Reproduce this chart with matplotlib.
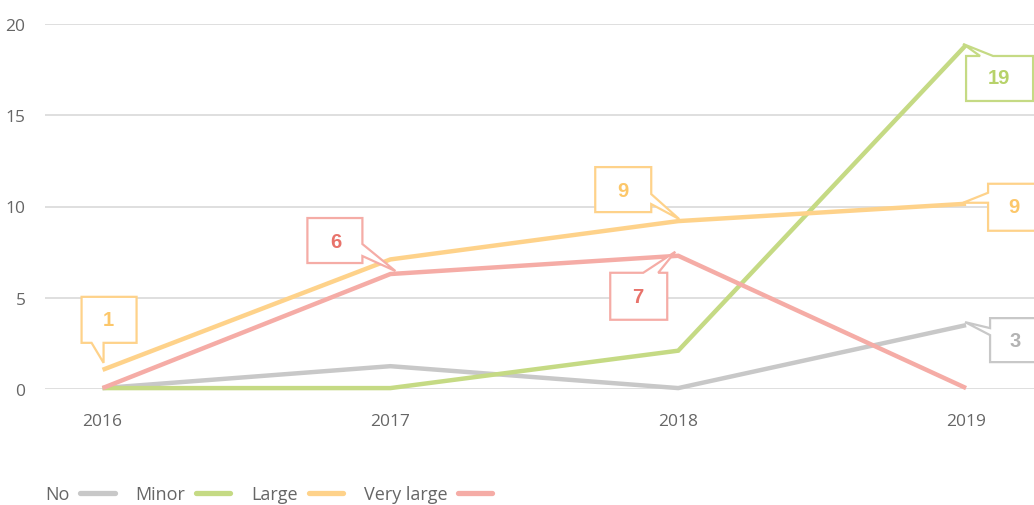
import matplotlib
matplotlib.use("Agg")
import matplotlib.pyplot as plt
from matplotlib.patches import Polygon
from matplotlib.transforms import Affine2D, ScaledTranslation
from matplotlib.lines import Line2D

years = [2016, 2017, 2018, 2019]
series_names = ["No", "Minor", "Large", "Very large"]
no_vals = [0.05, 1.25, 0.05, 3.5]
minor_vals = [0.05, 0.05, 2.1, 18.85]
large_vals = [1.05, 7.1, 9.2, 10.15]
very_large_vals = [0.05, 6.3, 7.3, 0.05]
y_ticks = [0, 5, 10, 15, 20]

# callouts: (series index, year index, label)
callouts = [
    (1, 3, "19"),
    (2, 3, "9"),
    (0, 3, "3"),
    (2, 2, "9"),
    (3, 1, "6"),
    (3, 2, "7"),
    (2, 0, "1"),
]

line_colors = ["#c8c8c8", "#c5da84", "#fed28a", "#f5aca6"]
text_colors = ["#b3b3b3", "#b7d26a", "#fcc76a", "#e8736b"]

all_vals = [no_vals, minor_vals, large_vals, very_large_vals]

W, H = 1034, 506
fig = plt.figure(figsize=(W / 100, H / 100), dpi=100)
ax = fig.add_axes([45 / W, 1 - 390 / H, 1 - 45 / W, (390 - 25) / H])
ax.set_xlim(2015.8, 2019.236)
ax.set_ylim(0, 20)

for s in ax.spines.values():
    s.set_visible(False)
ax.set_yticks(y_ticks)
ax.set_xticks(years)
ax.set_xticklabels([str(y) for y in years])
ax.grid(axis="y", color="#dcdcdc", linewidth=1.3)
ax.set_axisbelow(True)
ax.tick_params(axis="both", length=0, labelsize=12.5, labelcolor="#666666")
ax.tick_params(axis="y", pad=14)
ax.tick_params(axis="x", pad=17)
for lab in ax.get_xticklabels() + ax.get_yticklabels():
    lab.set_fontfamily("Open Sans")

for vals, c in zip(all_vals, line_colors):
    ax.plot(years, vals, color=c, linewidth=3.2, clip_on=False,
            solid_capstyle="butt", solid_joinstyle="miter", zorder=3)

# callout geometry in pixel offsets relative to the point (x right, y down):
# polygon vertices and text centre
shapes = [
    # 19 at Minor 2019
    ([(0, 11), (14, 11), (-3, -1), (27, 11), (67, 11), (67, 56), (0, 56)], (33, 33)),
    # 9 at Large 2019
    ([(22, -20), (22, -11), (-3, -1), (22, -1), (22, 27), (80, 27), (80, -20)], (48, 3)),
    # 3 at No 2019
    ([(24, -7), (24, 3), (-1, -3), (24, 10), (24, 37), (80, 37), (80, -7)], (49, 15)),
    # 9 at Large 2018
    ([(-83, -54), (-27, -54), (-27, -27), (1, -2), (-27, -17), (-27, -9),
      (-83, -9)], (-55, -31)),
    # 6 at Very large 2017
    ([(-83, -56), (-28, -56), (-28, -30), (5, -3), (-28, -18), (-28, -11),
      (-83, -11)], (-55, -33)),
    # 7 at Very large 2018
    ([(-68, 17), (-35, 17), (-3, -4), (-20, 17), (-11, 17), (-11, 64),
      (-68, 64)], (-40, 41)),
    # 1 at Large 2016
    ([(-21, -73), (34, -73), (34, -27), (1, -27), (1, -7), (-11, -27),
      (-21, -27)], (6, -50)),
]

for (si, yi, label), (verts, tc) in zip(callouts, shapes):
    x = years[yi]
    y = all_vals[si][yi]
    tr = Affine2D().scale(1, -1) + ScaledTranslation(x, y, ax.transData)
    poly = Polygon(verts, closed=True, fill=True, facecolor="white",
                   edgecolor=line_colors[si], linewidth=1.6, transform=tr,
                   clip_on=False, zorder=5, joinstyle="miter")
    ax.add_patch(poly)
    ax.text(tc[0], tc[1], label, transform=tr, ha="center", va="center",
            fontsize=14.5, fontweight="bold", color=text_colors[si],
            family="Liberation Sans", zorder=6, clip_on=False)

handles = [Line2D([0], [0], color=c, linewidth=3.8, solid_capstyle="round")
           for c in line_colors]
leg = fig.legend(handles, series_names, loc="center left",
                 bbox_to_anchor=(45 / W, 1 - 495 / H), ncol=4, frameon=False,
                 markerfirst=False, handlelength=1.9, handletextpad=0.6,
                 columnspacing=1.15, borderaxespad=0, borderpad=0,
                 prop={"family": "Open Sans", "size": 13})
for t in leg.get_texts():
    t.set_color("#666666")

fig.savefig("out.png", dpi=100)
